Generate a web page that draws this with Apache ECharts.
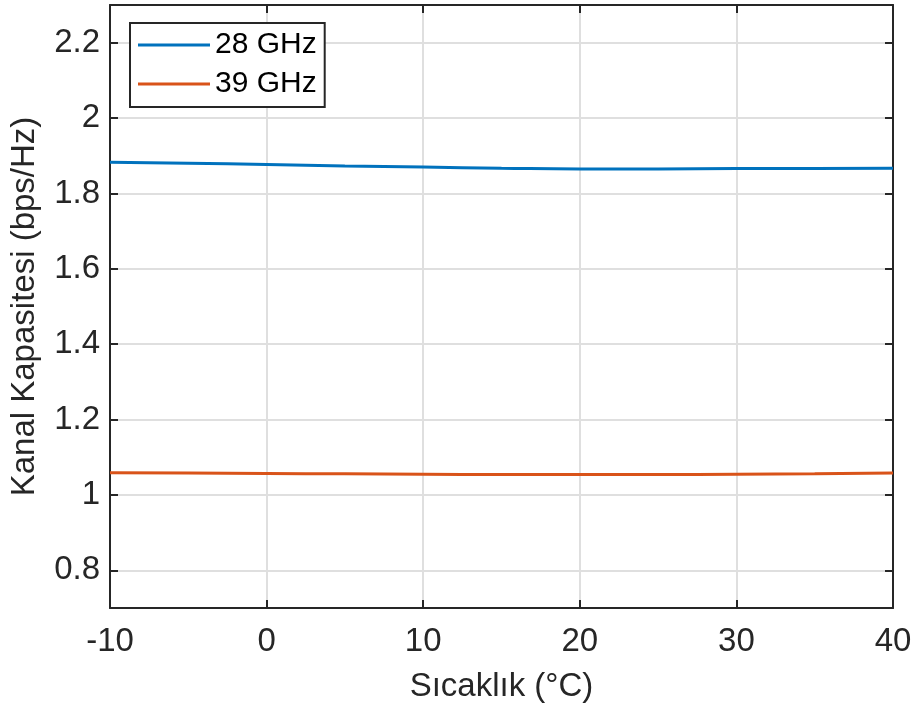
<!DOCTYPE html>
<html>
<head>
<meta charset="utf-8">
<script src="https://cdn.jsdelivr.net/npm/echarts@6/dist/echarts.min.js"></script>
<style>
html,body{margin:0;padding:0;background:#fff;}
#chart{width:915px;height:711px;}
</style>
</head>
<body>
<div id="chart"></div>
<script>
const temps = [-10, -5, 0, 5, 10, 15, 20, 25, 30, 35, 40];
const cap28 = [1.883, 1.880, 1.877, 1.873, 1.870, 1.867, 1.865, 1.865, 1.866, 1.866, 1.867];
const cap39 = [1.059, 1.058, 1.057, 1.056, 1.055, 1.054, 1.054, 1.054, 1.055, 1.056, 1.058];
const yTicks = [0.8, 1, 1.2, 1.4, 1.6, 1.8, 2, 2.2];
const seriesNames = ['28 GHz', '39 GHz'];
const xName = 'Sıcaklık (°C)';
const yName = 'Kanal Kapasitesi (bps/Hz)';

const FONT = 'Liberation Sans, Arial, Helvetica, sans-serif';
const AX = '#262626';
const chart = echarts.init(document.getElementById('chart'), null, {renderer: 'canvas'});

const mkY = (pos, show) => ({
  type: 'value', position: pos, min: 0.7, max: 2.3,
  axisLine: {show: true, onZero: false, lineStyle: {color: AX, width: 2}},
  axisTick: {show: true, inside: true, length: 8, customValues: yTicks, lineStyle: {color: AX, width: 2}},
  axisLabel: {show: show, customValues: yTicks, margin: 10, fontSize: 33, fontFamily: FONT, color: AX},
  splitLine: {show: show, lineStyle: {color: '#dfdfdf', width: 2}},
  name: show ? yName : '', nameLocation: 'middle', nameGap: 69,
  nameTextStyle: {fontSize: 33, fontFamily: FONT, color: AX}
});
const mkX = (pos, show) => ({
  type: 'value', position: pos, min: -10, max: 40, interval: 10,
  axisLine: {show: true, onZero: false, lineStyle: {color: AX, width: 2}},
  axisTick: {show: true, inside: true, length: 8, lineStyle: {color: AX, width: 2}},
  axisLabel: {show: show, margin: 17, fontSize: 33, fontFamily: FONT, color: AX},
  splitLine: {show: show, lineStyle: {color: '#dfdfdf', width: 2}},
  name: show ? xName : '', nameLocation: 'middle', nameGap: 62,
  nameTextStyle: {fontSize: 33, fontFamily: FONT, color: AX}
});

chart.setOption({
  backgroundColor: '#ffffff',
  animation: false,
  grid: {left: 110, right: 22, top: 5, bottom: 103, containLabel: false, outerBoundsMode: 'none'},
  legend: {
    left: 130, top: 23, orient: 'vertical',
    data: seriesNames,
    icon: 'rect',
    itemWidth: 72, itemHeight: 3, itemGap: 9,
    padding: [7, 8, 8, 8],
    borderColor: AX, borderWidth: 2, backgroundColor: '#fff',
    textStyle: {fontSize: 30, lineHeight: 30, fontFamily: FONT, color: '#000'}
  },
  xAxis: [mkX('bottom', true), mkX('top', false)],
  yAxis: [mkY('left', true), mkY('right', false)],
  series: [
    {name: seriesNames[0], type: 'line', smooth: true, showSymbol: false, symbol: 'none',
     data: temps.map((t, i) => [t, cap28[i]]), lineStyle: {color: '#0072BD', width: 3}, itemStyle: {color: '#0072BD'}},
    {name: seriesNames[1], type: 'line', smooth: true, showSymbol: false, symbol: 'none',
     data: temps.map((t, i) => [t, cap39[i]]), lineStyle: {color: '#D95319', width: 3}, itemStyle: {color: '#D95319'}}
  ]
});
</script>
</body>
</html>
